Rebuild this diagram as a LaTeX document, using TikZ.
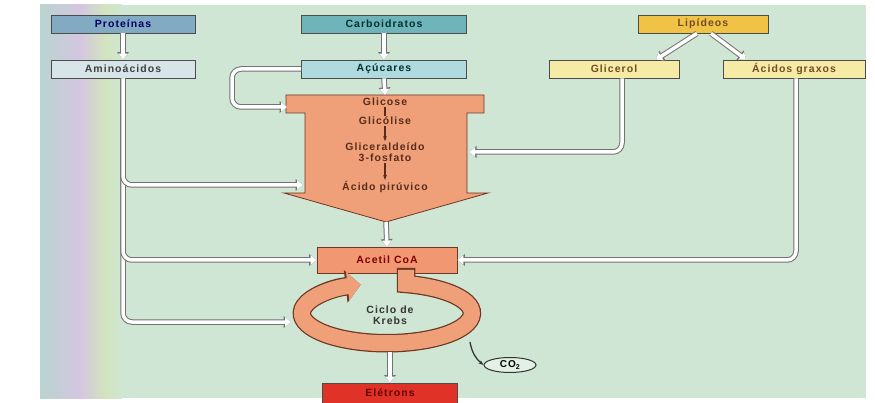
\documentclass[tikz,border=0pt]{standalone}
\usepackage{fontspec}
\setmainfont{Liberation Sans}[LetterSpace=10]
\usetikzlibrary{arrows.meta,positioning,shapes.geometric}

\definecolor{fundo}{RGB}{208,230,212}
\definecolor{lilas}{RGB}{212,198,225}
\definecolor{azulclaro}{RGB}{185,212,208}
\definecolor{verdeamar}{RGB}{210,228,190}
\definecolor{azulP}{RGB}{130,170,195}
\definecolor{cinzaA}{RGB}{215,228,232}
\definecolor{verdeC}{RGB}{110,180,185}
\definecolor{cianoA}{RGB}{175,218,222}
\definecolor{ouro}{RGB}{240,195,70}
\definecolor{amarelo}{RGB}{245,235,165}
\definecolor{salmao}{RGB}{240,160,120}
\definecolor{marrom}{RGB}{110,55,35}
\definecolor{vermelho}{RGB}{225,50,40}

\tikzset{every path/.style={line width=0.8pt}}
\tikzset{
  caixa/.style={draw=black!70, minimum height=18pt, inner sep=1pt,
    font=\fontsize{10.5}{11}\selectfont\bfseries},
  texto/.style={inner sep=1pt, align=center, text=marrom!80!black,
    font=\fontsize{10.5}{11}\selectfont\bfseries},
  tubo/.style={white, line width=3.5pt, rounded corners=9pt,
    -{Triangle[length=6pt,width=9pt]},
    preaction={draw=black!55, line width=5.5pt,
      -{Triangle[length=7.5pt,width=11.5pt]}}},
  seta/.style={draw=marrom!80!black, line width=1.3pt, -{Stealth[length=5pt]}}
}

\begin{document}
\begin{tikzpicture}[x=1pt,y=-1pt]
  \useasboundingbox (0,0) rectangle (875,403);
  % fundo
  \fill[fundo] (40,5) rectangle (866,398);
  \shade[left color=azulclaro, right color=lilas] (40,5) rectangle (80,398);
  \shade[left color=lilas, right color=verdeamar] (80,5) rectangle (105,398);
  \shade[left color=verdeamar, right color=fundo] (105,5) rectangle (122,398);

  % caixas de cima
  \node[caixa, fill=azulP, text=blue!40!black, minimum width=144pt] (proteinas) at (123,24) {Proteínas};
  \node[caixa, fill=cinzaA, text=black!75, minimum width=144pt] (aminoacidos) at (123,69) {Aminoácidos};
  \node[caixa, fill=verdeC, text=teal!40!black, minimum width=165pt] (carboidratos) at (384,24) {Carboidratos};
  \node[caixa, fill=cianoA, text=teal!40!black, minimum width=165pt] (acucares) at (384,69) {Açúcares};
  \node[caixa, fill=ouro, text=brown!60!black, minimum width=130pt] (lipideos) at (703,24) {Lipídeos};
  \node[caixa, fill=amarelo, text=brown!60!black, minimum width=130pt] (glicerol) at (614,69) {Glicerol};
  \node[caixa, fill=amarelo, text=brown!60!black, minimum width=142pt] (acidos) at (794,69) {Ácidos graxos};

  % seta grande da glicolise
  \draw[draw=marrom, fill=salmao] (286,95) -- (484,95) -- (484,113) -- (467,113)
    -- (467,193) -- (488,193) -- (386,222) -- (284,193) -- (305,193)
    -- (305,113) -- (286,113) -- cycle;
  \coordinate (topo) at (385,95);
  \coordinate (ladoE) at (287,107);
  \coordinate (ladoP) at (303,185);
  \coordinate (ladoD) at (469,152);
  \coordinate (ponta) at (386,222);

  \node[texto] (glicose) at (385,102) {Glicose};
  \node[texto] (glicolise) at (385,121) {Glicólise};
  \node[texto] (gliceraldeido) at (385,152) {Gliceraldeído\\3-fosfato};
  \node[texto] (piruvico) at (385,187) {Ácido pirúvico};
  \draw[marrom!80!black, line width=1.3pt] (glicose) -- (glicolise);
  \draw[seta] (glicolise) -- (gliceraldeido);
  \draw[seta] (gliceraldeido) -- (piruvico);

  % acetil CoA e ciclo
  \node[caixa, draw=marrom, fill=salmao!95!red, text=red!50!black, minimum width=140pt, minimum height=26pt] (acetil) at (387,260) {Acetil CoA};
  \draw[marrom, line width=18.5pt, -{Triangle[length=15pt,width=32pt]}]
    (406,268) -- (406,284) arc[start angle=77, end angle=-252, x radius=85pt, y radius=30pt];
  \draw[salmao, line width=16pt, -{Triangle[length=13pt,width=28pt]}]
    (406,270) -- (406,284) arc[start angle=77, end angle=-252, x radius=85pt, y radius=30pt];
  \node[font=\fontsize{10.5}{11.5}\selectfont\bfseries, align=center, text=black!80] (krebs) at (390,315) {Ciclo de\\Krebs};
  \coordinate (entradaK) at (291,322);
  \coordinate (anelBase) at (390,352);

  \node[ellipse, draw=black!80, line width=1pt, fill=fundo!60!white, minimum width=52pt, minimum height=15pt, inner sep=0pt, font=\fontsize{10}{10}\selectfont\bfseries] (co2) at (510,365) {CO\textsubscript{2}};
  \coordinate (saidaC) at (470,342);
  \draw[black!80, line width=1.3pt, -{Stealth[length=5pt]}] (saidaC) to[bend right=20] (co2.west);

  \node[caixa, fill=vermelho, text=red!40!black, minimum width=135pt, minimum height=20pt] (eletrons) at (390,393) {Elétrons};

  % conexoes
  \draw[tubo] (proteinas.south) -- (aminoacidos.north);
  \draw[tubo] (carboidratos.south) -- (acucares.north);
  \draw[tubo] ([xshift=-6pt]lipideos.south) -- ([xshift=42pt]glicerol.north);
  \draw[tubo] ([xshift=8pt]lipideos.south) -- ([xshift=-48pt]acidos.north);
  \draw[tubo] (acucares.south) -- (topo);
  \draw[tubo] (acucares.west) -- (232,69) |- (ladoE);
  \draw[tubo] (aminoacidos.south) |- (entradaK);
  \draw[tubo] (aminoacidos.south) |- (acetil.west);
  \draw[tubo] (aminoacidos.south) |- (ladoP);
  \draw[tubo] ([xshift=8pt]glicerol.south) |- (ladoD);
  \draw[tubo] ([xshift=2pt]acidos.south) |- (acetil.east);
  \draw[tubo] (ponta) -- (acetil.north);
  \draw[tubo] (anelBase) -- (eletrons.north);
\end{tikzpicture}
\end{document}
